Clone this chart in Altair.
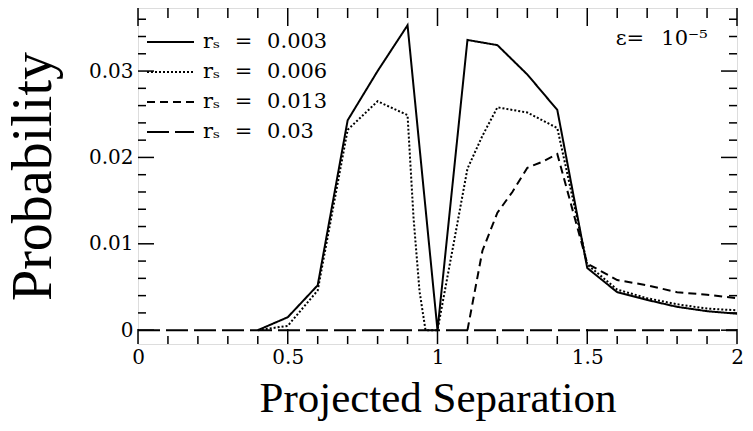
import altair as alt
import pandas as pd

# ---- data ----
SP = "\u2002\u2009"
series_names = [f"r\u209B{SP}={SP}0.003", f"r\u209B{SP}={SP}0.006",
                f"r\u209B{SP}={SP}0.013", f"r\u209B{SP}={SP}0.03"]

x_003 = [0.4, 0.5, 0.6, 0.7, 0.8, 0.9, 1.0, 1.1, 1.2, 1.3, 1.4, 1.5, 1.6, 1.7, 1.8, 1.9, 2.0]
y_003 = [0.0, 0.0015, 0.0052, 0.0243, 0.0300, 0.0353, 0.0, 0.0336, 0.0330, 0.0296, 0.0255,
         0.0072, 0.0044, 0.0035, 0.0027, 0.0022, 0.0019]

x_006 = [0.4, 0.5, 0.6, 0.7, 0.8, 0.9, 0.92, 0.94, 0.96, 1.0, 1.05, 1.1, 1.15, 1.2, 1.3, 1.4,
         1.5, 1.6, 1.7, 1.8, 1.9, 2.0]
y_006 = [0.0, 0.0005, 0.0046, 0.0232, 0.0265, 0.0249, 0.013, 0.0045, 0.0, 0.0, 0.0093, 0.0187,
         0.0225, 0.0258, 0.0252, 0.0234, 0.0076, 0.0047, 0.0037, 0.0030, 0.0025, 0.0023]

x_013 = [1.1, 1.15, 1.2, 1.25, 1.3, 1.35, 1.4, 1.5, 1.6, 1.7, 1.8, 1.9, 2.0]
y_013 = [0.0, 0.0092, 0.0136, 0.0160, 0.0188, 0.0195, 0.0204, 0.0077, 0.0058, 0.0052, 0.0044,
         0.0041, 0.0037]

x_03 = [0.0, 2.0]
y_03 = [0.0, 0.0]

x_major = [0, 0.5, 1, 1.5, 2]
x_minor = [0.1, 0.2, 0.3, 0.4, 0.6, 0.7, 0.8, 0.9, 1.1, 1.2, 1.3, 1.4, 1.6, 1.7, 1.8, 1.9]
y_major = [0, 0.01, 0.02, 0.03]
y_minor = [0.002, 0.004, 0.006, 0.008, 0.012, 0.014, 0.016, 0.018, 0.022, 0.024, 0.026,
           0.028, 0.032, 0.034, 0.036]

annot_text = ["\u03B5=\u2002 10\u207B\u2075"]
annot_x = [1.595]
annot_y = [0.0337]

# ---- layout ----
W, H = 599, 336
x_dom = [0, 2]
y_dom = [-0.0016, 0.0373]
TITLE_FONT = "Liberation Serif"
LABEL_FONT = "DejaVu Serif"

rows = []
for name, xs, ys in zip(series_names, [x_003, x_006, x_013, x_03], [y_003, y_006, y_013, y_03]):
    for xv, yv in zip(xs, ys):
        rows.append({"series": name, "x": xv, "y": yv})
df = pd.DataFrame(rows)

xs_ = alt.Scale(domain=x_dom, nice=False, zero=False)
ys_ = alt.Scale(domain=y_dom, nice=False, zero=False)

x_axis = alt.Axis(values=x_major, title="Projected Separation", ticks=False, domain=False,
                  grid=False, labelFont=LABEL_FONT, labelFontSize=20, labelPadding=3,
                  labelColor="black", labelFlush=False, labelOverlap=False,
                  labelExpr="datum.value == 0 ? '0' : format(datum.value, '~g')",
                  titleFont=TITLE_FONT, titleFontSize=43, titleFontWeight="normal",
                  titleColor="black", titlePadding=10)
y_axis = alt.Axis(values=y_major, title="Probability", ticks=False, domain=False,
                  grid=False, labelFont=LABEL_FONT, labelFontSize=20, labelPadding=5,
                  labelColor="black", labelFlush=False, labelOverlap=False,
                  labelExpr="datum.value == 0 ? '0' : format(datum.value, '.2f')",
                  titleFont=TITLE_FONT, titleFontSize=56, titleFontWeight="normal",
                  titleColor="black", titlePadding=26)

lines = alt.Chart(df).mark_line(color="black", strokeWidth=2).encode(
    x=alt.X("x:Q", scale=xs_, axis=x_axis, title="Projected Separation"),
    y=alt.Y("y:Q", scale=ys_, axis=y_axis, title="Probability"),
    strokeDash=alt.StrokeDash(
        "series:N",
        scale=alt.Scale(domain=series_names, range=[[1, 0], [2, 2], [8, 5], [22, 6]]),
        legend=alt.Legend(title=None, orient="none", legendX=8, legendY=19,
                          symbolType="stroke", symbolSize=2209, symbolStrokeWidth=2,
                          symbolStrokeColor="black", labelFont=LABEL_FONT, labelFontSize=21,
                          labelColor="black", rowPadding=0, clipHeight=30, labelOffset=8,
                          padding=0, labelLimit=300),
    ),
    detail="series:N",
)

def hticks(vals, y0, y1):
    d = pd.DataFrame({"v": vals})
    return alt.Chart(d).mark_rule(color="black", strokeWidth=1.5).encode(
        x=alt.X("v:Q", scale=xs_, axis=x_axis, title="Projected Separation"),
        y=alt.value(y0), y2=alt.value(y1))

def vticks(vals, x0, x1):
    d = pd.DataFrame({"v": vals})
    return alt.Chart(d).mark_rule(color="black", strokeWidth=1.5).encode(
        y=alt.Y("v:Q", scale=ys_, axis=y_axis, title="Probability"),
        x=alt.value(x0), x2=alt.value(x1))

ticks = [
    hticks(x_major, H, H - 15), hticks(x_minor, H, H - 8),
    hticks(x_major, 0, 18), hticks(x_minor, 0, 10),
    vticks(y_major, 0, 16), vticks(y_minor, 0, 8),
    vticks(y_major, W, W - 16), vticks(y_minor, W, W - 8),
]

annot = alt.Chart(pd.DataFrame({"t": annot_text, "x": annot_x, "y": annot_y})).mark_text(
    font=LABEL_FONT, fontSize=21, align="left", baseline="middle", color="black"
).encode(x=alt.X("x:Q", scale=xs_, axis=x_axis, title="Projected Separation"),
         y=alt.Y("y:Q", scale=ys_, axis=y_axis, title="Probability"), text="t:N")

chart = alt.layer(lines, *ticks, annot).properties(
    width=W, height=H,
    autosize=alt.AutoSizeParams(type="none"),
    padding={"left": 138, "top": 8, "right": 16, "bottom": 87},
).configure_view(stroke="black", strokeWidth=2).configure(background="white")

chart.save("out.html", embed_options={"renderer": "svg", "actions": False})
